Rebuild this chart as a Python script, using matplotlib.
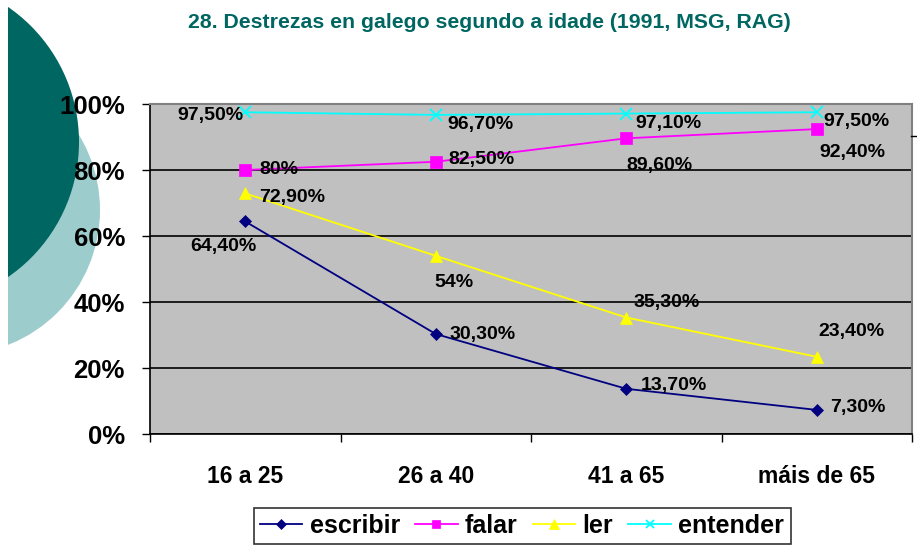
import matplotlib
matplotlib.use("Agg")
import matplotlib.pyplot as plt
from matplotlib.patches import Circle, Rectangle
from matplotlib.lines import Line2D
from matplotlib.transforms import IdentityTransform

categories = ["16 a 25", "26 a 40", "41 a 65", "máis de 65"]
escribir = [64.4, 30.3, 13.7, 7.3]
falar = [80.0, 82.5, 89.6, 92.4]
ler = [72.9, 54.0, 35.3, 23.4]
entender = [97.5, 96.7, 97.1, 97.5]
yticks = [0, 20, 40, 60, 80, 100]

def pct(v):
    s = f"{v:.2f}".replace(".", ",")
    if v == int(v):
        s = f"{int(v)}"
    return s + "%"

plt.rcParams["font.family"] = ["Liberation Sans", "DejaVu Sans"]
plt.rcParams["font.weight"] = "bold"

W, H = 917, 552
fig = plt.figure(figsize=(W / 100, H / 100), dpi=100)
fig.patch.set_facecolor("white")

# decorative circles (pixel coords)
fig.add_artist(Circle((-45, H - 210), 145, transform=IdentityTransform(),
                      facecolor="#9CCCCC", edgecolor="none", zorder=-3))
fig.add_artist(Circle((-85, H - 142), 164, transform=IdentityTransform(),
                      facecolor="#006661", edgecolor="none", zorder=-2))
fig.add_artist(Rectangle((0, 0), 8, H, transform=IdentityTransform(),
                         facecolor="white", edgecolor="none", zorder=-1))
fig.add_artist(Line2D([911, 917], [H - 136, H - 136], transform=IdentityTransform(),
                      color="black", lw=1))

ax = fig.add_axes([150 / W, (H - 434) / H, 762 / W, 330 / H])
ax.set_facecolor("#C0C0C0")
x = range(len(categories))

series = [
    ("escribir", escribir, "#000080", "D", 6),
    ("falar", falar, "#FF00FF", "s", 8),
    ("ler", ler, "#FFFF00", "^", 8.5),
    ("entender", entender, "#00FFFF", "x", 8),
]
for name, vals, col, mk, ms in series:
    ax.plot(x, vals, color=col, marker=mk, markersize=ms, lw=1.3,
            markeredgewidth=1.3 if mk == "x" else 0.5, label=name, zorder=3)

# label offsets in pixels (dx, dy, ha)
label_layout = {
    "escribir": [(-22, -25, "center"), (14, 0, "left"), (14, 3, "left"), (13, 2, "left")],
    "falar": [(14, 0, "left"), (13, 2, "left"), (33, -27, "center"), (36, -23, "center")],
    "ler": [(14, -4, "left"), (18, -27, "center"), (40, 15, "center"), (35, 25, "center")],
    "entender": [(-2, -3, "right"), (12, -10, "left"), (9, -10, "left"), (7, -9, "left")],
}
for name, vals, col, mk, ms in series:
    for i, v in enumerate(vals):
        dx, dy, ha = label_layout[name][i]
        ax.annotate(pct(v), (i, v), xytext=(dx, dy), textcoords="offset pixels",
                    ha=ha, va="center", fontsize=14, fontweight="bold", zorder=4)

ax.set_xlim(-0.5, 3.5)
ax.set_ylim(0, 100)
ax.set_yticks(yticks)
ax.set_yticklabels([f"{t}%" for t in yticks], fontsize=18.5, fontweight="bold")
ax.yaxis.grid(True, color="black", lw=1.2)
ax.set_axisbelow(True)
ax.tick_params(axis="y", length=6, width=1, pad=12, direction="out")

ax.set_xticks([-0.5, 0.5, 1.5, 2.5, 3.5])
ax.set_xticklabels([])
ax.set_xticks(list(x), minor=True)
ax.set_xticklabels(categories, minor=True, fontsize=16.5, fontweight="bold")
ax.tick_params(axis="x", which="major", length=6, width=1, direction="out")
ax.tick_params(axis="x", which="minor", length=0, pad=22)

for s in ["left", "bottom"]:
    ax.spines[s].set_color("black")
    ax.spines[s].set_linewidth(1.2)
for s in ["top", "right"]:
    ax.spines[s].set_color("#808080")
    ax.spines[s].set_linewidth(1.5)

fig.text(489 / W, (H - 22) / H, "28. Destrezas en galego segundo a idade (1991, MSG, RAG)",
         ha="center", va="center", color="#006661", fontsize=15.3, fontweight="bold")

leg = fig.legend(loc="center", bbox_to_anchor=(522 / W, (H - 526) / H), ncol=4,
                 frameon=True, fancybox=False, edgecolor="black", fontsize=18,
                 handlelength=1.7, handletextpad=0.3, columnspacing=0.6,
                 borderpad=0.25, markerscale=0.8)
leg.get_frame().set_linewidth(1.2)
for t in leg.get_texts():
    t.set_fontweight("bold")

fig.savefig("out.png", dpi=100, facecolor="white")
